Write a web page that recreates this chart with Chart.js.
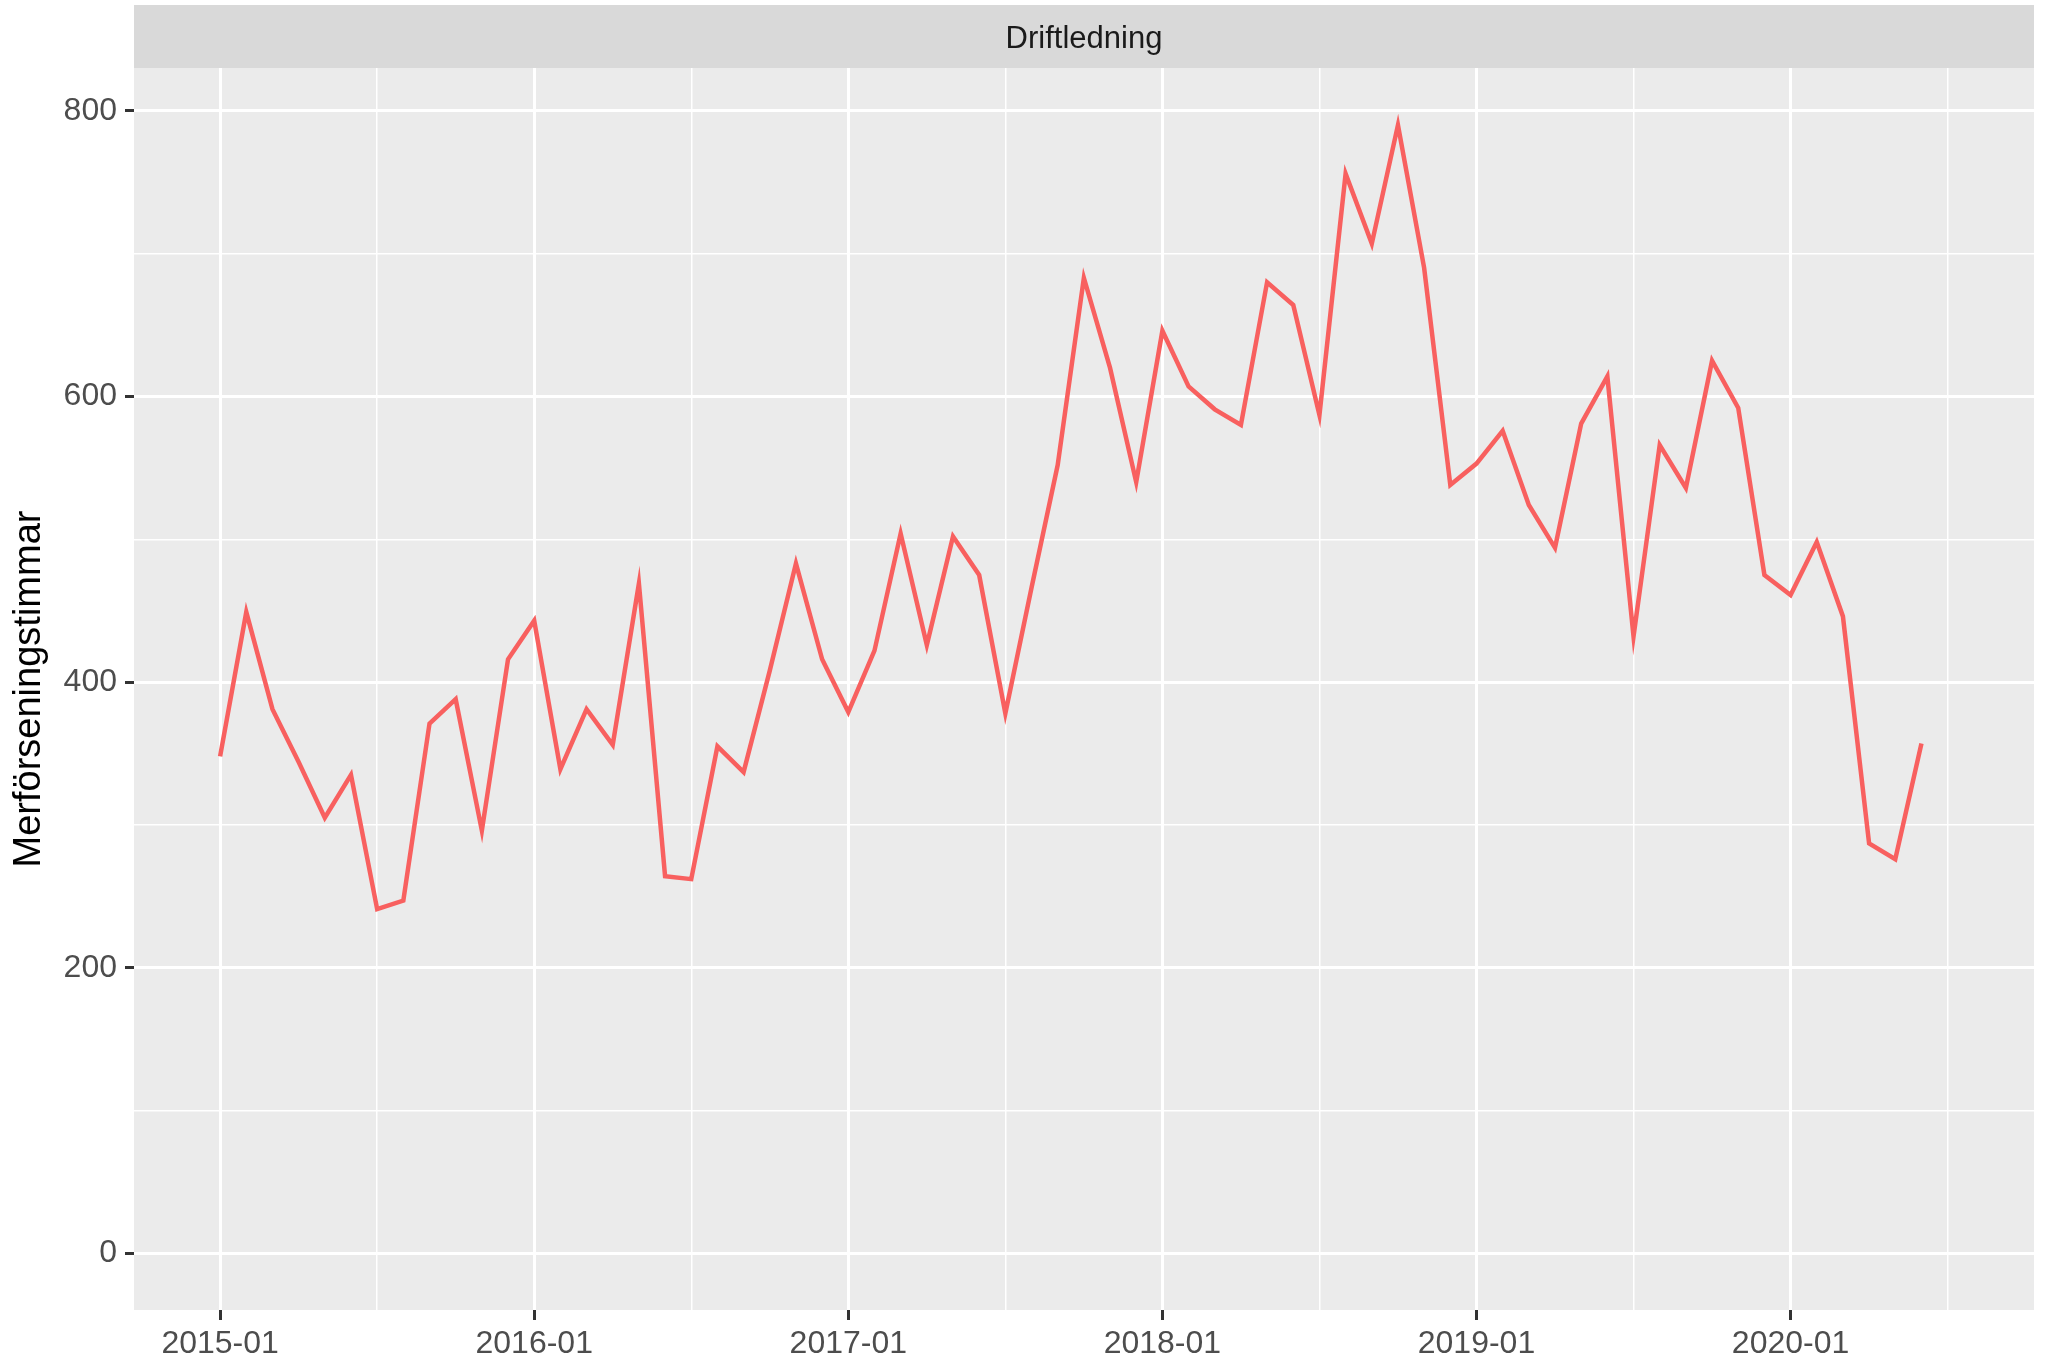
<!DOCTYPE html>
<html>
<head>
<meta charset="utf-8">
<script src="https://cdn.jsdelivr.net/npm/chart.js@4/dist/chart.umd.min.js"></script>
<style>
html,body{margin:0;padding:0;background:#ffffff;}
#c{display:block;}
</style>
</head>
<body>
<canvas id="c" width="2049" height="1368"></canvas>
<script>
// Months (index 0 = 2015-01)
const months = [
 '2015-01','2015-02','2015-03','2015-04','2015-05','2015-06','2015-07','2015-08','2015-09','2015-10','2015-11','2015-12',
 '2016-01','2016-02','2016-03','2016-04','2016-05','2016-06','2016-07','2016-08','2016-09','2016-10','2016-11','2016-12',
 '2017-01','2017-02','2017-03','2017-04','2017-05','2017-06','2017-07','2017-08','2017-09','2017-10','2017-11','2017-12',
 '2018-01','2018-02','2018-03','2018-04','2018-05','2018-06','2018-07','2018-08','2018-09','2018-10','2018-11','2018-12',
 '2019-01','2019-02','2019-03','2019-04','2019-05','2019-06','2019-07','2019-08','2019-09','2019-10','2019-11','2019-12',
 '2020-01','2020-02','2020-03','2020-04','2020-05','2020-06'
];
const delayHours = [
 348, 449, 381, 344, 305, 335, 241, 247, 371, 388, 296, 416,
 443, 339, 381, 356, 469, 264, 262, 355, 337, 408, 483, 416,
 379, 422, 504, 426, 502, 475, 378, 466, 552, 683, 620, 540,
 646, 607, 591, 580, 680, 664, 587, 756, 707, 790, 690, 538,
 553, 576, 524, 494, 581, 614, 432, 566, 536, 625, 592, 475,
 461, 498, 446, 287, 276, 357
];
const xTickLabels = ['2015-01','2016-01','2017-01','2018-01','2019-01','2020-01'];
const yTickValues = [0, 200, 400, 600, 800];
const yMinorValues = [100, 300, 500, 700];
const facetLabel = 'Driftledning';
const yTitle = 'Merförseningstimmar';

const xMajor = xTickLabels.map(l => months.indexOf(l));
const xMinor = xMajor.map(v => v + 6);

const points = delayHours.map((v, i) => ({x: i, y: v}));

const FONT = "'Liberation Sans', Arial, sans-serif";

const panelPlugin = {
  id: 'panel',
  beforeDraw(chart) {
    const {ctx, chartArea: a} = chart;
    ctx.save();
    ctx.fillStyle = '#EBEBEB';
    ctx.fillRect(a.left, a.top, a.right - a.left, a.bottom - a.top);
    // strip
    ctx.fillStyle = '#D9D9D9';
    ctx.fillRect(a.left, 5, a.right - a.left, a.top - 5);
    ctx.fillStyle = '#1A1A1A';
    ctx.font = '31px ' + FONT;
    ctx.textAlign = 'center';
    ctx.textBaseline = 'alphabetic';
    ctx.fillText(facetLabel, (a.left + a.right) / 2, 48);
    ctx.restore();
  }
};

const isMajorX = v => xMajor.includes(v);
const isMajorY = v => yTickValues.includes(v);

new Chart(document.getElementById('c'), {
  type: 'line',
  data: {
    datasets: [{
      data: points,
      borderColor: '#F8605F',
      borderWidth: 4.5,
      pointRadius: 0,
      tension: 0,
      fill: false
    }]
  },
  options: {
    responsive: false,
    animation: false,
    devicePixelRatio: 1,
    layout: {padding: {top: 68, right: 15, left: 0, bottom: 0}},
    plugins: {legend: {display: false}, tooltip: {enabled: false}},
    scales: {
      x: {
        type: 'linear',
        min: -3.29,
        max: 69.3,
        border: {display: false},
        afterBuildTicks(scale) {
          scale.ticks = [...xMajor, ...xMinor].sort((a, b) => a - b).map(v => ({value: v}));
        },
        afterFit(scale) { scale.height = 58; },
        grid: {
          color: '#FFFFFF',
          lineWidth: c => isMajorX(c.tick.value) ? 3 : 1.5,
          drawTicks: true,
          tickLength: 10,
          tickColor: c => isMajorX(c.tick.value) ? '#333333' : 'rgba(0,0,0,0)',
          tickWidth: 3
        },
        ticks: {
          autoSkip: false,
          maxRotation: 0,
          padding: 5,
          color: '#4D4D4D',
          font: {family: FONT, size: 32},
          callback: v => isMajorX(v) ? xTickLabels[xMajor.indexOf(v)] : ''
        }
      },
      y: {
        type: 'linear',
        min: -39.7,
        max: 830,
        border: {display: false},
        afterBuildTicks(scale) {
          scale.ticks = [...yTickValues, ...yMinorValues].sort((a, b) => a - b).map(v => ({value: v}));
        },
        afterFit(scale) { scale.width = 134; },
        grid: {
          color: '#FFFFFF',
          lineWidth: c => isMajorY(c.tick.value) ? 3 : 1.5,
          drawTicks: true,
          tickLength: 9,
          tickColor: c => isMajorY(c.tick.value) ? '#333333' : 'rgba(0,0,0,0)',
          tickWidth: 3
        },
        ticks: {
          autoSkip: false,
          padding: 8,
          color: '#4D4D4D',
          font: {family: FONT, size: 32},
          callback: v => isMajorY(v) ? String(v) : ''
        },
        title: {
          display: true,
          text: yTitle,
          color: '#000000',
          font: {family: FONT, size: 38},
          padding: {top: 7, bottom: 0}
        }
      }
    }
  },
  plugins: [panelPlugin]
});
</script>
</body>
</html>
